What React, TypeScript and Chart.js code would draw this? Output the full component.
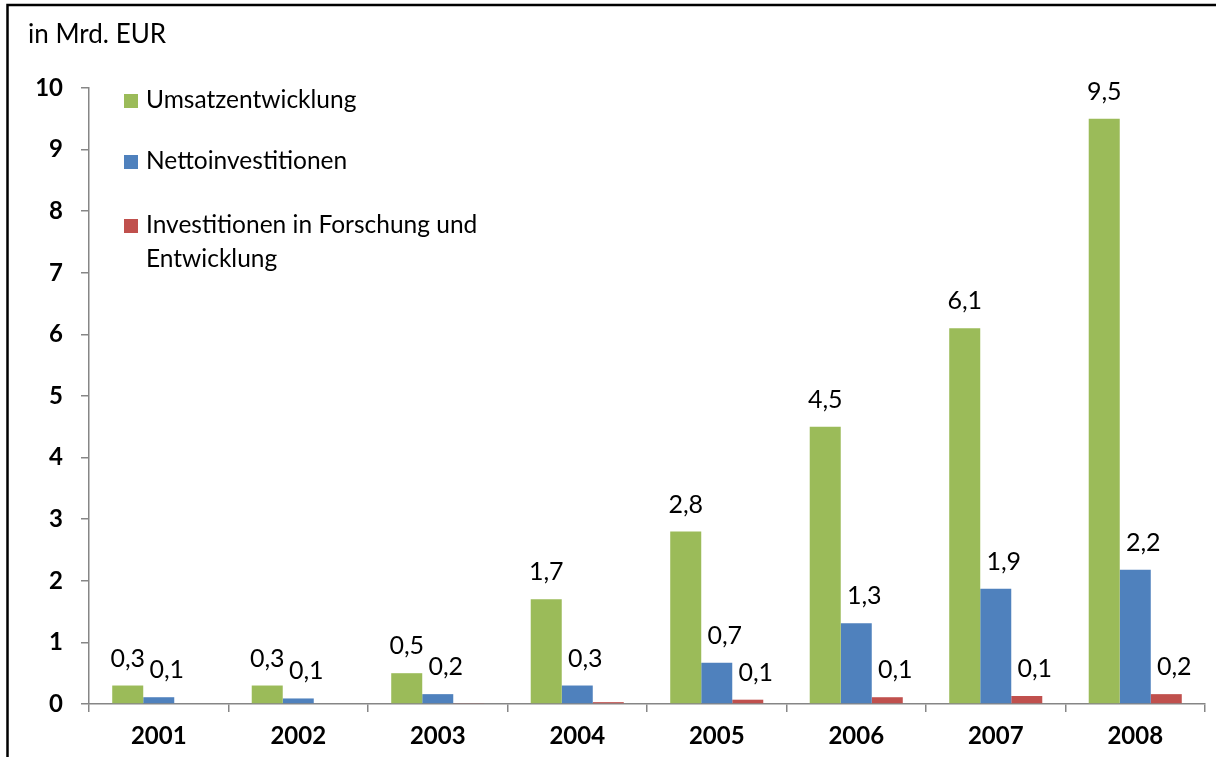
import React, { useEffect, useRef } from 'react';
import { Chart, registerables } from 'chart.js';

Chart.register(...registerables);

const years = ['2001', '2002', '2003', '2004', '2005', '2006', '2007', '2008'];
const umsatz = [0.3, 0.3, 0.5, 1.7, 2.8, 4.5, 6.1, 9.5];
const netto = [0.11, 0.09, 0.16, 0.3, 0.67, 1.31, 1.87, 2.18];
const forschung = [0, 0, 0.01, 0.03, 0.07, 0.11, 0.13, 0.16];
const seriesNames = ['Umsatzentwicklung', 'Nettoinvestitionen', 'Investitionen in Forschung und Entwicklung'];
const seriesColors = ['#9BBB59', '#4F81BD', '#C0504D'];
const yMin = 0;
const yMax = 10;
const yStep = 1;
const unitLabel = 'in Mrd. EUR';

const FONT = 'Lato';
const W = 1216;
const H = 757;

function fmt(v: number) {
  return v.toFixed(1).replace('.', ',');
}

export default function App() {
  const ref = useRef<HTMLCanvasElement>(null);

  useEffect(() => {
    document.body.style.margin = '0';
    const canvas = ref.current;
    if (!canvas) return;

    const overlay = {
      id: 'overlay',
      afterDraw(chart: any) {
        const ctx = chart.ctx as CanvasRenderingContext2D;
        ctx.save();
        // frame
        ctx.strokeStyle = '#000';
        ctx.lineWidth = 2.5;
        ctx.beginPath();
        ctx.moveTo(7.5, H);
        ctx.lineTo(7.5, 5);
        ctx.lineTo(W, 5);
        ctx.stroke();

        // unit title
        ctx.fillStyle = '#000';
        ctx.font = `26px ${FONT}`;
        ctx.textAlign = 'left';
        ctx.textBaseline = 'alphabetic';
        ctx.fillText(unitLabel, 28, 43);

        // data labels
        ctx.font = `25px ${FONT}`;
        chart.data.datasets.forEach((ds: any, i: number) => {
          const meta = chart.getDatasetMeta(i);
          meta.data.forEach((bar: any, j: number) => {
            const txt = fmt(ds.data[j]);
            if (txt === '0,0') return;
            ctx.textAlign = 'center';
            ctx.fillText(txt, bar.x + (i ? 8 : 0), bar.y - 19);
          });
        });

        // legend
        ctx.font = `24.5px ${FONT}`;
        const baselines = [108, 169, 233];
        const lineGap = 34;
        const maxW = 350;
        seriesNames.forEach((name, i) => {
          const b = baselines[i];
          ctx.fillStyle = seriesColors[i];
          ctx.fillRect(124, b - 14, 14, 14);
          ctx.fillStyle = '#000';
          ctx.textAlign = 'left';
          const words = name.split(' ');
          const lines: string[] = [];
          let cur = '';
          words.forEach((w) => {
            const test = cur ? cur + ' ' + w : w;
            if (ctx.measureText(test).width > maxW && cur) {
              lines.push(cur);
              cur = w;
            } else cur = test;
          });
          if (cur) lines.push(cur);
          lines.forEach((ln, k) => ctx.fillText(ln, 146, b + k * lineGap));
        });
        ctx.restore();
      },
    };

    const chart = new Chart(canvas, {
      type: 'bar',
      data: {
        labels: years,
        datasets: [
          { label: seriesNames[0], data: umsatz, backgroundColor: seriesColors[0] },
          { label: seriesNames[1], data: netto, backgroundColor: seriesColors[1] },
          { label: seriesNames[2], data: forschung, backgroundColor: seriesColors[2] },
        ],
      },
      options: {
        responsive: false,
        animation: false,
        layout: { padding: { top: 88, right: 11, left: 0, bottom: 0 } },
        datasets: { bar: { categoryPercentage: 0.667, barPercentage: 1 } },
        plugins: { legend: { display: false }, tooltip: { enabled: false } },
        scales: {
          x: {
            offset: true,
            grid: { offset: true, drawOnChartArea: false, drawTicks: true, tickLength: 8, color: '#868686', lineWidth: 1.5 },
            border: { color: '#868686', width: 1.5 },
            ticks: { color: '#000', font: { family: FONT, size: 24, weight: 'bold' }, padding: 10, maxRotation: 0 },
            afterFit: (s: any) => { s.height = 53; },
          },
          y: {
            min: yMin,
            max: yMax,
            grid: { drawOnChartArea: false, drawTicks: true, tickLength: 8, color: '#868686', lineWidth: 1.5 },
            border: { color: '#868686', width: 1.5 },
            ticks: { stepSize: yStep, color: '#000', font: { family: FONT, size: 24, weight: 'bold' }, padding: 18 },
            afterFit: (s: any) => { s.width = 89; },
          },
        },
      },
      plugins: [overlay],
    } as any);

    return () => chart.destroy();
  }, []);

  return (
    <div style={{ position: 'absolute', left: 0, top: 0, width: W, height: H, background: '#fff' }}>
      <canvas ref={ref} width={W} height={H} style={{ display: 'block' }} />
    </div>
  );
}
